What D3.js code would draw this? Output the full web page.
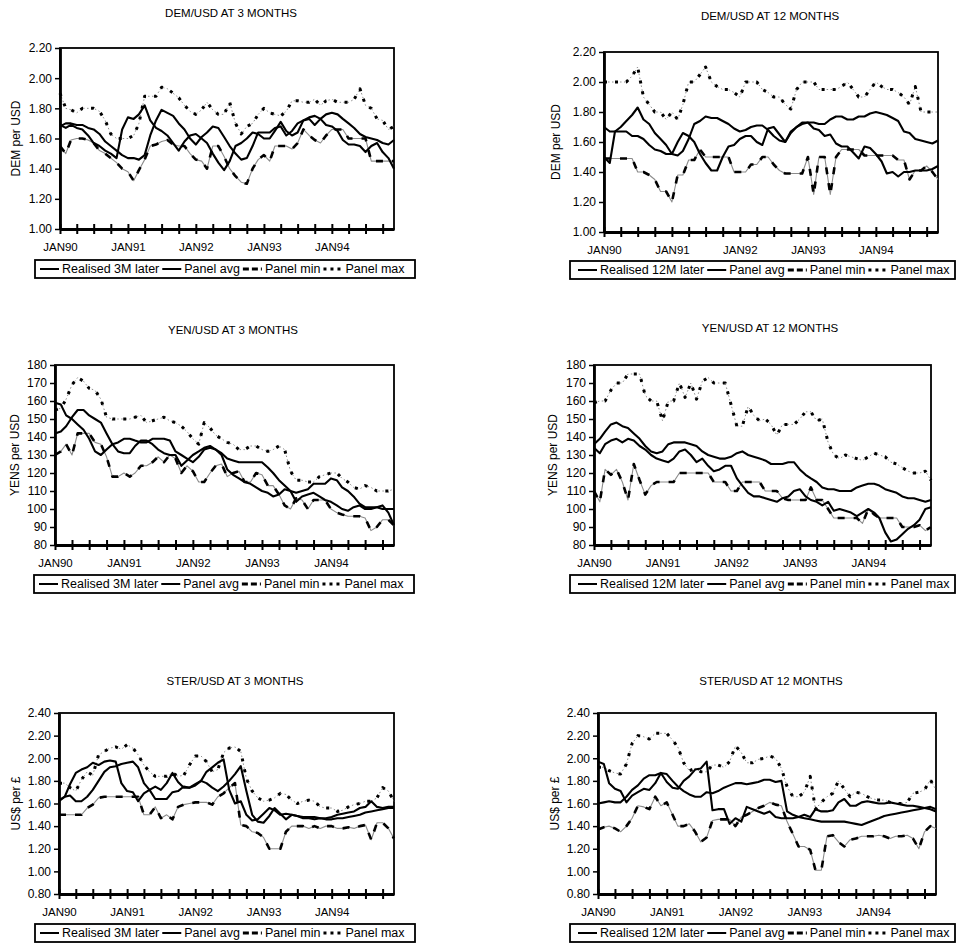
<!DOCTYPE html>
<html>
<head>
<meta charset="utf-8">
<script src="https://cdn.jsdelivr.net/npm/d3@7"></script>
<style>
  body { margin: 0; background: #fff; }
  svg text { font-family: "Liberation Sans", Arial, Helvetica, sans-serif; fill: #000; }
</style>
</head>
<body>
<svg id="chart" width="956" height="943"></svg>
<script>
// ---- Monthly observations, Jan 1990 to Dec 1994 ----
const startYear = 1990;
const xTickLabels = ["JAN90", "JAN91", "JAN92", "JAN93", "JAN94"];
const demTicks = [1.00, 1.20, 1.40, 1.60, 1.80, 2.00, 2.20];
const yenTicks = [80, 90, 100, 110, 120, 130, 140, 150, 160, 170, 180];
const sterTicks = [0.80, 1.00, 1.20, 1.40, 1.60, 1.80, 2.00, 2.20, 2.40];
const legend3M = ["Realised 3M later", "Panel avg", "Panel min", "Panel max"];
const legend12M = ["Realised 12M later", "Panel avg", "Panel min", "Panel max"];

// DEM per USD, 3-month horizon
const dem3Realised = [1.69,1.67,1.69,1.67,1.66,1.62,1.57,1.55,1.52,1.50,1.47,1.66,
  1.74,1.73,1.76,1.82,1.72,1.67,1.65,1.62,1.57,1.52,1.58,1.62,
  1.63,1.60,1.57,1.50,1.44,1.39,1.45,1.55,1.57,1.60,1.64,1.63,
  1.60,1.60,1.65,1.71,1.65,1.62,1.64,1.72,1.74,1.75,1.73,1.69,
  1.68,1.65,1.59,1.56,1.56,1.55,1.51,1.55,1.57,1.51,1.47,1.40];
const dem3Avg = [1.68,1.70,1.70,1.69,1.69,1.67,1.66,1.63,1.58,1.55,1.52,1.49,
  1.47,1.47,1.46,1.49,1.62,1.72,1.79,1.77,1.75,1.70,1.66,1.60,
  1.56,1.61,1.64,1.68,1.67,1.61,1.55,1.50,1.46,1.47,1.55,1.64,
  1.64,1.64,1.67,1.68,1.62,1.65,1.70,1.72,1.73,1.69,1.73,1.76,
  1.77,1.76,1.73,1.70,1.67,1.63,1.61,1.60,1.59,1.57,1.56,1.59];
const dem3Min = [1.55,1.50,1.59,1.60,1.60,1.59,1.57,1.52,1.50,1.47,1.44,1.40,
  1.38,1.32,1.39,1.46,1.55,1.56,1.58,1.59,1.56,1.55,1.55,1.50,
  1.46,1.45,1.40,1.55,1.55,1.48,1.40,1.35,1.31,1.30,1.40,1.46,
  1.49,1.45,1.55,1.55,1.55,1.53,1.57,1.66,1.62,1.59,1.57,1.62,
  1.66,1.66,1.66,1.60,1.60,1.60,1.60,1.45,1.45,1.45,1.45,1.45];
const dem3Max = [1.90,1.80,1.79,1.77,1.80,1.80,1.80,1.78,1.72,1.63,1.60,1.60,
  1.60,1.62,1.70,1.88,1.88,1.88,1.94,1.93,1.90,1.87,1.82,1.78,
  1.76,1.79,1.84,1.79,1.76,1.76,1.84,1.70,1.63,1.68,1.70,1.76,
  1.80,1.77,1.76,1.75,1.78,1.85,1.85,1.84,1.84,1.86,1.82,1.85,
  1.86,1.84,1.84,1.84,1.86,1.93,1.82,1.80,1.73,1.72,1.66,1.68];

// DEM per USD, 12-month horizon
const dem12Realised = [1.50,1.46,1.67,1.70,1.74,1.78,1.83,1.75,1.72,1.66,1.62,1.58,
  1.52,1.60,1.66,1.64,1.60,1.52,1.46,1.41,1.41,1.50,1.57,1.58,
  1.62,1.64,1.64,1.60,1.58,1.69,1.70,1.65,1.60,1.66,1.70,1.73,
  1.73,1.69,1.68,1.64,1.65,1.59,1.57,1.57,1.53,1.49,1.57,1.56,
  1.52,1.47,1.39,1.40,1.37,1.40,1.40,1.41,1.41,1.41,1.42,1.44];
const dem12Avg = [1.70,1.67,1.67,1.67,1.67,1.64,1.64,1.62,1.58,1.55,1.54,1.52,
  1.52,1.51,1.54,1.62,1.72,1.74,1.77,1.76,1.76,1.74,1.72,1.69,
  1.67,1.68,1.70,1.71,1.71,1.68,1.64,1.61,1.60,1.67,1.70,1.72,
  1.73,1.73,1.72,1.72,1.75,1.77,1.77,1.75,1.75,1.77,1.77,1.79,
  1.80,1.79,1.78,1.76,1.74,1.67,1.66,1.62,1.61,1.60,1.59,1.61];
const dem12Min = [1.49,1.49,1.49,1.49,1.49,1.49,1.40,1.40,1.38,1.35,1.27,1.27,
  1.20,1.38,1.38,1.48,1.48,1.55,1.50,1.50,1.50,1.50,1.50,1.40,
  1.40,1.40,1.45,1.45,1.50,1.50,1.45,1.41,1.39,1.39,1.39,1.39,
  1.50,1.25,1.50,1.50,1.25,1.50,1.55,1.55,1.55,1.55,1.51,1.51,
  1.51,1.51,1.51,1.51,1.48,1.48,1.35,1.41,1.41,1.44,1.40,1.35];
const dem12Max = [2.00,2.00,2.00,2.00,2.00,2.04,2.10,1.90,1.85,1.80,1.80,1.75,
  1.80,1.75,1.85,2.00,2.00,2.05,2.10,2.00,1.97,1.95,1.95,1.93,
  1.90,2.00,2.00,2.00,1.95,1.93,1.90,1.90,1.85,1.82,1.95,2.00,
  2.00,2.00,1.95,1.95,1.95,1.95,1.97,2.00,1.95,1.90,1.90,1.95,
  2.00,1.97,1.95,1.95,1.93,1.90,1.85,1.97,1.80,1.80,1.80,1.80];

// Yen per USD, 3-month horizon
const yen3Realised = [159,158,152,150,147,144,139,132,130,133,136,137,
  139,139,138,137,137,139,139,139,138,132,130,128,
  126,129,133,134,133,130,122,119,117,115,114,112,
  110,109,107,108,111,110,104,107,108,109,107,105,
  104,102,100,99,101,102,100,100,101,102,98,91];
const yen3Avg = [142,143,146,151,155,155,152,150,148,142,136,132,
  131,131,135,138,138,136,133,131,130,130,124,127,
  130,132,134,135,133,131,128,127,126,126,126,126,
  126,123,120,116,113,110,109,110,111,114,114,114,
  117,116,112,110,107,103,101,101,101,100,100,100];
const yen3Min = [130,132,136,130,142,142,142,137,136,129,118,118,
  120,118,120,124,124,126,129,126,130,128,120,124,
  121,115,115,120,124,125,118,120,121,115,115,120,
  119,113,113,108,102,100,106,105,100,105,105,105,
  100,98,97,96,96,96,95,88,90,94,94,91];
const yen3Max = [155,156,161,169,173,171,167,166,161,151,150,150,
  150,150,151,152,148,149,150,151,149,148,146,143,
  139,136,148,145,141,139,137,136,133,133,135,135,
  133,132,133,135,133,121,116,116,115,115,118,119,
  120,120,117,115,112,111,113,112,110,110,110,111];

// Yen per USD, 12-month horizon
const yen12Realised = [134,131,136,138,139,137,139,138,135,133,130,128,
  127,126,128,132,133,130,126,128,124,121,122,124,
  124,117,113,109,107,107,106,105,104,106,107,110,
  111,107,105,104,102,104,99,100,99,98,96,98,
  100,98,95,87,82,83,86,89,91,94,100,101];
const yen12Avg = [136,139,143,147,148,146,145,142,139,135,132,131,
  132,136,137,137,137,136,135,132,130,129,128,128,
  129,131,132,130,129,128,127,125,125,125,126,126,
  122,119,117,115,112,111,111,110,110,110,112,113,
  114,114,113,111,110,109,107,106,106,105,104,105];
const yen12Min = [110,104,122,119,122,115,105,125,116,108,113,115,
  115,115,115,120,120,120,120,120,120,115,115,115,
  110,110,115,115,115,115,110,110,110,106,105,105,
  105,105,112,105,105,100,95,95,95,95,95,92,
  100,97,95,95,95,95,90,90,90,91,88,90];
const yen12Max = [159,160,160,166,170,170,175,175,175,163,160,160,
  149,160,160,170,162,170,161,171,173,170,170,170,
  158,146,146,157,152,149,150,147,141,147,147,147,
  150,154,154,149,150,137,130,128,130,129,128,127,
  129,131,130,129,126,125,123,121,120,120,121,116];

// US$ per pound, 3-month horizon
const ster3Realised = [1.63,1.66,1.77,1.87,1.90,1.92,1.96,1.94,1.97,1.98,1.97,1.78,
  1.71,1.70,1.62,1.69,1.72,1.75,1.72,1.78,1.87,1.79,1.74,1.74,
  1.77,1.80,1.88,1.92,1.96,1.99,1.72,1.60,1.62,1.50,1.45,1.46,
  1.51,1.56,1.54,1.50,1.51,1.50,1.49,1.48,1.48,1.48,1.47,1.47,
  1.48,1.50,1.51,1.52,1.53,1.56,1.57,1.62,1.57,1.56,1.57,1.57];
const ster3Avg = [1.62,1.66,1.67,1.62,1.62,1.66,1.72,1.80,1.88,1.92,1.93,1.95,
  1.96,1.97,1.92,1.78,1.72,1.64,1.64,1.64,1.70,1.71,1.75,1.74,
  1.76,1.80,1.78,1.74,1.71,1.75,1.80,1.86,1.93,1.71,1.50,1.44,
  1.43,1.49,1.56,1.51,1.46,1.50,1.49,1.47,1.47,1.46,1.47,1.46,
  1.46,1.47,1.47,1.48,1.49,1.50,1.52,1.53,1.54,1.55,1.56,1.56];
const ster3Min = [1.50,1.50,1.50,1.50,1.50,1.56,1.59,1.65,1.66,1.66,1.66,1.66,
  1.66,1.66,1.66,1.50,1.50,1.57,1.47,1.50,1.46,1.57,1.59,1.60,
  1.61,1.61,1.61,1.59,1.66,1.69,1.74,1.78,1.41,1.40,1.35,1.34,
  1.30,1.20,1.20,1.20,1.35,1.40,1.40,1.40,1.38,1.40,1.38,1.40,
  1.40,1.38,1.38,1.39,1.38,1.40,1.41,1.28,1.43,1.43,1.38,1.29];
const ster3Max = [1.78,1.78,1.74,1.71,1.81,1.88,1.85,2.03,2.06,2.09,2.10,2.08,
  2.12,2.09,2.03,1.94,1.88,1.84,1.84,1.84,1.87,1.84,1.85,1.94,
  2.02,2.02,1.97,1.88,1.90,2.05,2.09,2.10,2.06,1.82,1.71,1.65,
  1.62,1.63,1.65,1.69,1.68,1.63,1.60,1.62,1.63,1.62,1.57,1.56,
  1.56,1.53,1.54,1.57,1.59,1.60,1.62,1.62,1.65,1.74,1.71,1.62];

// US$ per pound, 12-month horizon
const ster12Realised = [1.97,1.95,1.78,1.73,1.71,1.61,1.67,1.70,1.73,1.72,1.78,1.87,
  1.79,1.74,1.73,1.80,1.84,1.90,1.91,1.97,1.54,1.55,1.55,1.42,
  1.47,1.44,1.57,1.55,1.53,1.51,1.53,1.48,1.47,1.47,1.47,1.48,
  1.50,1.48,1.55,1.53,1.53,1.54,1.61,1.64,1.58,1.58,1.61,1.62,
  1.61,1.60,1.60,1.61,1.60,1.59,1.58,1.58,1.57,1.56,1.55,1.53];
const ster12Avg = [1.60,1.61,1.62,1.61,1.61,1.66,1.72,1.76,1.82,1.85,1.85,1.87,
  1.86,1.80,1.75,1.71,1.68,1.66,1.66,1.70,1.69,1.71,1.74,1.76,
  1.78,1.78,1.77,1.78,1.79,1.81,1.81,1.79,1.80,1.53,1.50,1.48,
  1.47,1.46,1.45,1.44,1.44,1.44,1.44,1.44,1.43,1.42,1.41,1.43,
  1.45,1.47,1.49,1.50,1.51,1.52,1.53,1.54,1.55,1.56,1.57,1.55];
const ster12Min = [1.37,1.39,1.40,1.38,1.35,1.40,1.47,1.58,1.57,1.55,1.66,1.58,
  1.61,1.50,1.40,1.40,1.42,1.35,1.26,1.30,1.45,1.46,1.46,1.46,
  1.40,1.48,1.50,1.53,1.56,1.58,1.61,1.59,1.58,1.44,1.33,1.22,
  1.22,1.19,1.01,1.01,1.31,1.32,1.26,1.22,1.28,1.29,1.31,1.31,
  1.31,1.32,1.31,1.29,1.31,1.31,1.32,1.29,1.20,1.35,1.40,1.38];
const ster12Max = [1.92,1.92,1.89,1.87,1.86,1.95,2.13,2.20,2.19,2.17,2.22,2.22,
  2.22,2.16,2.10,1.96,1.89,1.91,1.88,1.88,1.94,1.94,1.92,1.97,
  2.11,2.05,1.96,1.96,1.99,2.00,2.02,2.00,1.91,1.75,1.66,1.66,
  1.70,1.84,1.55,1.61,1.66,1.69,1.80,1.73,1.66,1.70,1.69,1.66,
  1.64,1.63,1.63,1.61,1.60,1.60,1.61,1.69,1.70,1.72,1.81,1.72];

// ---- Chart drawing ----
const months = d3.range(dem3Realised.length).map(i => new Date(Date.UTC(startYear, i, 1)));
const fmt2 = d3.format(".2f");
const fmt0 = d3.format("d");

const panels = [
  { title: "DEM/USD AT 3 MONTHS", yLabel: "DEM per USD", ticks: demTicks, fmt: fmt2, legend: legend3M,
    series: [dem3Realised, dem3Avg, dem3Min, dem3Max],
    left: 60, right: 394, top: 48, bottom: 229, titleX: 231, titleY: 13, yLabX: 16,
    legL: 35, legW: 380, legT: 260, legStart: 5 },
  { title: "DEM/USD AT 12 MONTHS", yLabel: "DEM per USD", ticks: demTicks, fmt: fmt2, legend: legend12M,
    series: [dem12Realised, dem12Avg, dem12Min, dem12Max],
    left: 604, right: 938, top: 52, bottom: 232, titleX: 770, titleY: 16, yLabX: 556,
    legL: 570, legW: 385, legT: 261, legStart: 8 },
  { title: "YEN/USD AT 3 MONTHS", yLabel: "YENS per USD", ticks: yenTicks, fmt: fmt0, legend: legend3M,
    series: [yen3Realised, yen3Avg, yen3Min, yen3Max],
    left: 55, right: 394, top: 365, bottom: 545, titleX: 233, titleY: 330, yLabX: 15,
    legL: 34, legW: 380, legT: 575, legStart: 5 },
  { title: "YEN/USD AT 12 MONTHS", yLabel: "YENS per USD", ticks: yenTicks, fmt: fmt0, legend: legend12M,
    series: [yen12Realised, yen12Avg, yen12Min, yen12Max],
    left: 594, right: 931, top: 365, bottom: 545, titleX: 770, titleY: 328, yLabX: 553,
    legL: 570, legW: 385, legT: 575, legStart: 8 },
  { title: "STER/USD AT 3 MONTHS", yLabel: "US$ per \u00a3", ticks: sterTicks, fmt: fmt2, legend: legend3M,
    series: [ster3Realised, ster3Avg, ster3Min, ster3Max],
    left: 59, right: 394, top: 713, bottom: 894, titleX: 235, titleY: 681, yLabX: 16,
    legL: 35, legW: 380, legT: 924, legStart: 5 },
  { title: "STER/USD AT 12 MONTHS", yLabel: "US$ per \u00a3", ticks: sterTicks, fmt: fmt2, legend: legend12M,
    series: [ster12Realised, ster12Avg, ster12Min, ster12Max],
    left: 598, right: 936, top: 713, bottom: 894, titleX: 771, titleY: 681, yLabX: 555,
    legL: 570, legW: 385, legT: 924, legStart: 8 }
];

// stroke styles: realised, avg, min (dashed over a thin grey trace), max (dotted over a thin grey trace)
const lineStyles = [
  [{ stroke: "#000", width: 2.1, dash: null }],
  [{ stroke: "#000", width: 2.1, dash: null }],
  [{ stroke: "#8c8c8c", width: 1.1, dash: null }, { stroke: "#000", width: 2.6, dash: "7,9" }],
  [{ stroke: "#8c8c8c", width: 1, dash: "1.5,2.5" }, { stroke: "#000", width: 3, dash: "3,8" }]
];
const legendStyles = [
  { width: 2, dash: null }, { width: 2, dash: null }, { width: 3, dash: "6,3" }, { width: 3, dash: "3,4" }
];

const svg = d3.select("#chart");

function drawPanel(p) {
  const g = svg.append("g");
  const x = d3.scaleUtc().domain([months[0], months[months.length - 1]]).range([p.left, p.right]);
  const y = d3.scaleLinear().domain([p.ticks[0], p.ticks[p.ticks.length - 1]]).range([p.bottom, p.top]);

  g.append("rect")
    .attr("x", p.left).attr("y", p.top)
    .attr("width", p.right - p.left).attr("height", p.bottom - p.top)
    .attr("fill", "none").attr("stroke", "#000").attr("stroke-width", 1.8);

  const line = d3.line().x((d, i) => x(months[i])).y(d => y(d));
  // dashed / dotted first so the solid lines sit on top
  [3, 2, 1, 0].forEach(k => {
    lineStyles[k].forEach(st => {
      g.append("path").datum(p.series[k])
        .attr("d", line)
        .attr("fill", "none")
        .attr("stroke", st.stroke)
        .attr("stroke-width", st.width)
        .attr("stroke-dasharray", st.dash)
        .attr("stroke-linejoin", "round");
    });
  });

  // x axis: quarterly crossing ticks, January labels
  const quarterly = months.filter((d, i) => i % 3 === 0);
  const xAxis = d3.axisBottom(x)
    .tickValues(quarterly)
    .tickFormat(d => d.getUTCMonth() === 0 ? xTickLabels[d.getUTCFullYear() - startYear] : "")
    .tickSizeInner(5).tickSizeOuter(0).tickPadding(9);
  const gx = g.append("g").attr("transform", `translate(0,${p.bottom})`).call(xAxis);
  gx.select(".domain").attr("stroke-width", 2.8);
  gx.selectAll(".tick line").attr("y1", -5).attr("y2", 5).attr("stroke-width", 2);
  gx.selectAll(".tick text").attr("font-size", 11.5);

  // y axis
  const yAxis = d3.axisLeft(y).tickValues(p.ticks).tickFormat(p.fmt)
    .tickSizeInner(5).tickSizeOuter(0).tickPadding(3);
  const gy = g.append("g").attr("transform", `translate(${p.left},0)`).call(yAxis);
  gy.select(".domain").attr("stroke-width", 2.8);
  gy.selectAll(".tick line").attr("stroke-width", 1.5);
  gy.selectAll(".tick text").attr("font-size", 12);

  // titles
  g.append("text").attr("x", p.titleX).attr("y", p.titleY).attr("dy", "0.35em")
    .attr("text-anchor", "middle").attr("font-size", 11.5).text(p.title);
  g.append("text")
    .attr("transform", `translate(${p.yLabX},${(p.top + p.bottom) / 2}) rotate(-90)`)
    .attr("dy", "0.35em").attr("text-anchor", "middle").attr("font-size", 12).text(p.yLabel);

  // legend
  const lg = g.append("g");
  const h = 18, cy = p.legT + h / 2;
  lg.append("rect").attr("x", p.legL).attr("y", p.legT).attr("width", p.legW).attr("height", h)
    .attr("fill", "#fff").attr("stroke", "#000").attr("stroke-width", 1.8);
  let cx = p.legL + p.legStart;
  p.legend.forEach((label, k) => {
    const st = legendStyles[k];
    lg.append("line").attr("x1", cx).attr("x2", cx + 19).attr("y1", cy).attr("y2", cy)
      .attr("stroke", "#000").attr("stroke-width", st.width).attr("stroke-dasharray", st.dash);
    const t = lg.append("text").attr("x", cx + 22).attr("y", cy).attr("dy", "0.35em")
      .attr("font-size", 12.5).text(label);
    cx = cx + 22 + t.node().getComputedTextLength() + 3;
  });
}

panels.forEach(drawPanel);
</script>
</body>
</html>
